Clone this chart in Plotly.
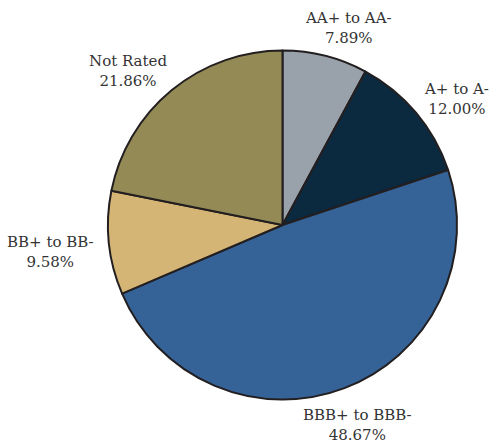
import plotly.graph_objects as go

labels = ["AA+ to AA-", "A+ to A-", "BBB+ to BBB-", "BB+ to BB-", "Not Rated"]
values = [7.89, 12.00, 48.67, 9.58, 21.86]
colors = ["#99A1AA", "#0B2A40", "#356398", "#D4B576", "#948A56"]

# label placement (pixels from top-left, centre of the two-line text block)
label_x = [348.5, 456, 357.5, 50.5, 127.5]
label_y = [28, 99, 425, 252, 71]

W, H = 489, 444

fig = go.Figure(go.Pie(
    labels=labels,
    values=values,
    sort=False,
    direction="clockwise",
    rotation=0,
    marker=dict(colors=colors, line=dict(color="#231F20", width=2)),
    textinfo="none",
    showlegend=False,
    hoverinfo="label+value",
    domain=dict(x=[107 / W, 458 / W], y=[(H - 399.5) / H, (H - 50.5) / H]),
))

for lab, val, lx, ly in zip(labels, values, label_x, label_y):
    fig.add_annotation(
        x=lx / W, y=1 - ly / H, xref="paper", yref="paper",
        text=f"{lab}<br>{val:.2f}%",
        showarrow=False, xanchor="center", yanchor="middle",
        font=dict(family="DejaVu Serif", size=15, color="#333333"),
    )

fig.update_layout(
    width=W, height=H,
    margin=dict(l=0, r=0, t=0, b=0),
    paper_bgcolor="white",
    plot_bgcolor="white",
)
fig.write_html(
    "out.html",
    config={"displayModeBar": False},
    post_script="document.body.style.margin='0px';document.body.style.overflow='hidden';",
)
